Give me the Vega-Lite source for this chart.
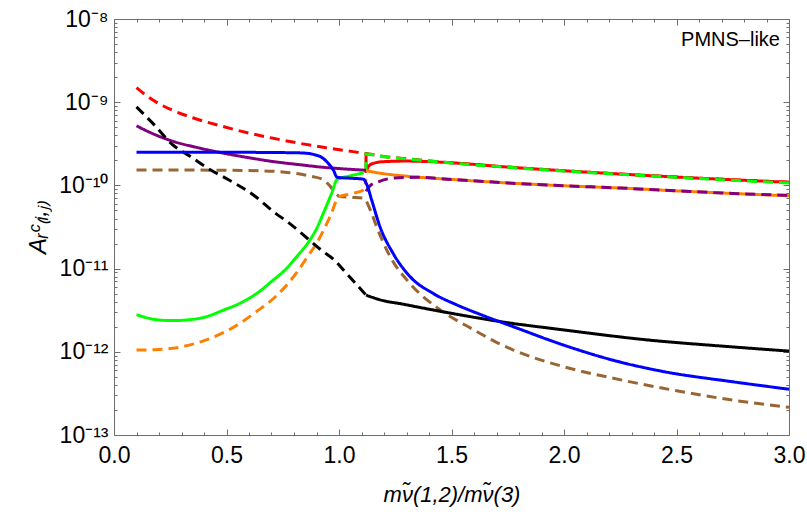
{
  "$schema": "https://vega.github.io/schema/vega-lite/v6.json",
  "description": "A_R^C(i,j) against the sneutrino mass ratio, PMNS-like case",
  "width": 675,
  "height": 416,
  "autosize": {"type": "none"},
  "padding": {"left": 114, "top": 19, "right": 18, "bottom": 81},
  "background": "white",
  "view": {"stroke": null},
  "config": {
    "font": "Liberation Sans",
    "axis": {
      "grid": false,
      "domainColor": "#6e6e6e",
      "tickColor": "#6e6e6e",
      "labelColor": "black",
      "labelFont": "Liberation Sans",
      "labelFontSize": 23,
      "labelOverlap": false,
      "labelFlush": false,
      "titleFont": "Liberation Sans",
      "titleFontSize": 22,
      "titleFontWeight": "normal",
      "titleColor": "black"
    }
  },
  "datasets": {
    "curves": [
      {"curve": "c01", "i": 1, "x": 0.1, "y": 1.5e-9},
      {"curve": "c01", "i": 2, "x": 0.15, "y": 1.17e-9},
      {"curve": "c01", "i": 3, "x": 0.2, "y": 9.6e-10},
      {"curve": "c01", "i": 4, "x": 0.26, "y": 8.0e-10},
      {"curve": "c01", "i": 5, "x": 0.35, "y": 6.5e-10},
      {"curve": "c01", "i": 6, "x": 0.485, "y": 5.1e-10},
      {"curve": "c01", "i": 7, "x": 0.6, "y": 4.25e-10},
      {"curve": "c01", "i": 8, "x": 0.708, "y": 3.68e-10},
      {"curve": "c01", "i": 9, "x": 0.82, "y": 3.22e-10},
      {"curve": "c01", "i": 10, "x": 0.93, "y": 2.87e-10},
      {"curve": "c01", "i": 11, "x": 1.02, "y": 2.64e-10},
      {"curve": "c01", "i": 12, "x": 1.12, "y": 2.42e-10},
      {"curve": "c01", "i": 13, "x": 1.2, "y": 2.23e-10},
      {"curve": "c01", "i": 14, "x": 1.3, "y": 2.09e-10},
      {"curve": "c01", "i": 15, "x": 1.5, "y": 1.87e-10},
      {"curve": "c01", "i": 16, "x": 1.75, "y": 1.66e-10},
      {"curve": "c01", "i": 17, "x": 2.0, "y": 1.5e-10},
      {"curve": "c01", "i": 18, "x": 2.25, "y": 1.37e-10},
      {"curve": "c01", "i": 19, "x": 2.5, "y": 1.26e-10},
      {"curve": "c01", "i": 20, "x": 2.75, "y": 1.17e-10},
      {"curve": "c01", "i": 21, "x": 3.0, "y": 1.09e-10},

      {"curve": "c02", "i": 22, "x": 1.12, "y": 2.4e-10},
      {"curve": "c02", "i": 23, "x": 1.12, "y": 1.47e-10},
      {"curve": "c02", "i": 24, "x": 1.13, "y": 1.68e-10},
      {"curve": "c02", "i": 25, "x": 1.15, "y": 1.83e-10},
      {"curve": "c02", "i": 26, "x": 1.2, "y": 1.93e-10},
      {"curve": "c02", "i": 27, "x": 1.3, "y": 1.96e-10},
      {"curve": "c02", "i": 28, "x": 1.4, "y": 1.93e-10},
      {"curve": "c02", "i": 29, "x": 1.5, "y": 1.87e-10},
      {"curve": "c02", "i": 30, "x": 1.75, "y": 1.66e-10},
      {"curve": "c02", "i": 31, "x": 2.0, "y": 1.5e-10},
      {"curve": "c02", "i": 32, "x": 2.5, "y": 1.26e-10},
      {"curve": "c02", "i": 33, "x": 3.0, "y": 1.09e-10},

      {"curve": "c03", "i": 34, "x": 1.12, "y": 1.45e-10},
      {"curve": "c03", "i": 35, "x": 1.12, "y": 2.38e-10},
      {"curve": "c03", "i": 36, "x": 1.2, "y": 2.21e-10},
      {"curve": "c03", "i": 37, "x": 1.3, "y": 2.08e-10},
      {"curve": "c03", "i": 38, "x": 1.5, "y": 1.86e-10},
      {"curve": "c03", "i": 39, "x": 1.75, "y": 1.65e-10},
      {"curve": "c03", "i": 40, "x": 2.0, "y": 1.49e-10},
      {"curve": "c03", "i": 41, "x": 2.25, "y": 1.36e-10},
      {"curve": "c03", "i": 42, "x": 2.5, "y": 1.25e-10},
      {"curve": "c03", "i": 43, "x": 2.75, "y": 1.15e-10},
      {"curve": "c03", "i": 44, "x": 3.0, "y": 1.07e-10},

      {"curve": "c04", "i": 45, "x": 1.12, "y": 1.5e-10},
      {"curve": "c04", "i": 46, "x": 1.2, "y": 1.38e-10},
      {"curve": "c04", "i": 47, "x": 1.3, "y": 1.29e-10},
      {"curve": "c04", "i": 48, "x": 1.5, "y": 1.18e-10},
      {"curve": "c04", "i": 49, "x": 1.75, "y": 1.07e-10},
      {"curve": "c04", "i": 50, "x": 2.0, "y": 9.9e-11},
      {"curve": "c04", "i": 51, "x": 2.25, "y": 9.3e-11},
      {"curve": "c04", "i": 52, "x": 2.5, "y": 8.6e-11},
      {"curve": "c04", "i": 53, "x": 2.75, "y": 8.0e-11},
      {"curve": "c04", "i": 54, "x": 3.0, "y": 7.5e-11},

      {"curve": "c05", "i": 55, "x": 1.12, "y": 8.5e-11},
      {"curve": "c05", "i": 56, "x": 1.14, "y": 1.0e-10},
      {"curve": "c05", "i": 57, "x": 1.18, "y": 1.12e-10},
      {"curve": "c05", "i": 58, "x": 1.25, "y": 1.23e-10},
      {"curve": "c05", "i": 59, "x": 1.35, "y": 1.25e-10},
      {"curve": "c05", "i": 60, "x": 1.5, "y": 1.18e-10},
      {"curve": "c05", "i": 61, "x": 1.75, "y": 1.07e-10},
      {"curve": "c05", "i": 62, "x": 2.0, "y": 9.9e-11},
      {"curve": "c05", "i": 63, "x": 2.25, "y": 9.3e-11},
      {"curve": "c05", "i": 64, "x": 2.5, "y": 8.6e-11},
      {"curve": "c05", "i": 65, "x": 2.75, "y": 8.0e-11},
      {"curve": "c05", "i": 66, "x": 3.0, "y": 7.6e-11},

      {"curve": "c06", "i": 67, "x": 0.1, "y": 5.2e-10},
      {"curve": "c06", "i": 68, "x": 0.18, "y": 4.1e-10},
      {"curve": "c06", "i": 69, "x": 0.26, "y": 3.4e-10},
      {"curve": "c06", "i": 70, "x": 0.37, "y": 2.85e-10},
      {"curve": "c06", "i": 71, "x": 0.49, "y": 2.43e-10},
      {"curve": "c06", "i": 72, "x": 0.6, "y": 2.15e-10},
      {"curve": "c06", "i": 73, "x": 0.71, "y": 1.93e-10},
      {"curve": "c06", "i": 74, "x": 0.82, "y": 1.78e-10},
      {"curve": "c06", "i": 75, "x": 0.93, "y": 1.65e-10},
      {"curve": "c06", "i": 76, "x": 1.02, "y": 1.58e-10},
      {"curve": "c06", "i": 77, "x": 1.12, "y": 1.52e-10},

      {"curve": "c07", "i": 78, "x": 0.1, "y": 1.53e-10},
      {"curve": "c07", "i": 79, "x": 0.3, "y": 1.53e-10},
      {"curve": "c07", "i": 80, "x": 0.5, "y": 1.52e-10},
      {"curve": "c07", "i": 81, "x": 0.65, "y": 1.5e-10},
      {"curve": "c07", "i": 82, "x": 0.75, "y": 1.45e-10},
      {"curve": "c07", "i": 83, "x": 0.82, "y": 1.38e-10},
      {"curve": "c07", "i": 84, "x": 0.88, "y": 1.28e-10},
      {"curve": "c07", "i": 85, "x": 0.93, "y": 1.17e-10},
      {"curve": "c07", "i": 86, "x": 0.96, "y": 9.8e-11},
      {"curve": "c07", "i": 87, "x": 0.99, "y": 7.8e-11},
      {"curve": "c07", "i": 88, "x": 1.0, "y": 7.4e-11},
      {"curve": "c07", "i": 89, "x": 1.05, "y": 7.2e-11},
      {"curve": "c07", "i": 90, "x": 1.11, "y": 7.0e-11},
      {"curve": "c07", "i": 91, "x": 1.14, "y": 5.0e-11},
      {"curve": "c07", "i": 92, "x": 1.167, "y": 3.2e-11},
      {"curve": "c07", "i": 93, "x": 1.227, "y": 1.4e-11},
      {"curve": "c07", "i": 94, "x": 1.316, "y": 6.6e-12},
      {"curve": "c07", "i": 95, "x": 1.449, "y": 3.2e-12},
      {"curve": "c07", "i": 96, "x": 1.597, "y": 1.85e-12},
      {"curve": "c07", "i": 97, "x": 1.7, "y": 1.3e-12},
      {"curve": "c07", "i": 98, "x": 1.775, "y": 1.05e-12},
      {"curve": "c07", "i": 99, "x": 2.0, "y": 6.6e-13},
      {"curve": "c07", "i": 100, "x": 2.22, "y": 4.8e-13},
      {"curve": "c07", "i": 101, "x": 2.44, "y": 3.65e-13},
      {"curve": "c07", "i": 102, "x": 2.74, "y": 2.65e-13},
      {"curve": "c07", "i": 103, "x": 3.0, "y": 2.15e-13},

      {"curve": "c08", "i": 104, "x": 0.1, "y": 1.05e-12},
      {"curve": "c08", "i": 105, "x": 0.18, "y": 1.06e-12},
      {"curve": "c08", "i": 106, "x": 0.26, "y": 1.1e-12},
      {"curve": "c08", "i": 107, "x": 0.41, "y": 1.39e-12},
      {"curve": "c08", "i": 108, "x": 0.56, "y": 2.2e-12},
      {"curve": "c08", "i": 109, "x": 0.63, "y": 3.0e-12},
      {"curve": "c08", "i": 110, "x": 0.71, "y": 4.4e-12},
      {"curve": "c08", "i": 111, "x": 0.81, "y": 8.8e-12},
      {"curve": "c08", "i": 112, "x": 0.86, "y": 1.39e-11},
      {"curve": "c08", "i": 113, "x": 0.9, "y": 2.0e-11},
      {"curve": "c08", "i": 114, "x": 0.96, "y": 4.2e-11},
      {"curve": "c08", "i": 115, "x": 1.0, "y": 7.3e-11},
      {"curve": "c08", "i": 116, "x": 1.05, "y": 7.9e-11},
      {"curve": "c08", "i": 117, "x": 1.11, "y": 8.8e-11},
      {"curve": "c08", "i": 118, "x": 1.12, "y": 1.2e-10},

      {"curve": "c09", "i": 119, "x": 0.1, "y": 2.8e-12},
      {"curve": "c09", "i": 120, "x": 0.18, "y": 2.45e-12},
      {"curve": "c09", "i": 121, "x": 0.256, "y": 2.37e-12},
      {"curve": "c09", "i": 122, "x": 0.33, "y": 2.42e-12},
      {"curve": "c09", "i": 123, "x": 0.41, "y": 2.64e-12},
      {"curve": "c09", "i": 124, "x": 0.49, "y": 3.2e-12},
      {"curve": "c09", "i": 125, "x": 0.56, "y": 3.83e-12},
      {"curve": "c09", "i": 126, "x": 0.64, "y": 5.16e-12},
      {"curve": "c09", "i": 127, "x": 0.708, "y": 7.3e-12},
      {"curve": "c09", "i": 128, "x": 0.76, "y": 9.6e-12},
      {"curve": "c09", "i": 129, "x": 0.812, "y": 1.39e-11},
      {"curve": "c09", "i": 130, "x": 0.871, "y": 2.21e-11},
      {"curve": "c09", "i": 131, "x": 0.9, "y": 3.0e-11},
      {"curve": "c09", "i": 132, "x": 0.93, "y": 4.6e-11},
      {"curve": "c09", "i": 133, "x": 0.967, "y": 8.0e-11},
      {"curve": "c09", "i": 134, "x": 0.992, "y": 1.18e-10},
      {"curve": "c09", "i": 135, "x": 1.05, "y": 1.3e-10},
      {"curve": "c09", "i": 136, "x": 1.11, "y": 1.42e-10},

      {"curve": "c10", "i": 137, "x": 0.1, "y": 8.8e-10},
      {"curve": "c10", "i": 138, "x": 0.18, "y": 5.3e-10},
      {"curve": "c10", "i": 139, "x": 0.26, "y": 3.1e-10},
      {"curve": "c10", "i": 140, "x": 0.34, "y": 2.22e-10},
      {"curve": "c10", "i": 141, "x": 0.43, "y": 1.53e-10},
      {"curve": "c10", "i": 142, "x": 0.49, "y": 1.25e-10},
      {"curve": "c10", "i": 143, "x": 0.63, "y": 7.3e-11},
      {"curve": "c10", "i": 144, "x": 0.71, "y": 4.8e-11},
      {"curve": "c10", "i": 145, "x": 0.78, "y": 3.5e-11},
      {"curve": "c10", "i": 146, "x": 0.86, "y": 2.3e-11},
      {"curve": "c10", "i": 147, "x": 0.93, "y": 1.6e-11},
      {"curve": "c10", "i": 148, "x": 0.975, "y": 1.3e-11},
      {"curve": "c10", "i": 149, "x": 1.02, "y": 9.6e-12},
      {"curve": "c10", "i": 150, "x": 1.07, "y": 6.8e-12},
      {"curve": "c10", "i": 151, "x": 1.12, "y": 4.8e-12},

      {"curve": "c11", "i": 152, "x": 1.12, "y": 4.8e-12},
      {"curve": "c11", "i": 153, "x": 1.2, "y": 4.1e-12},
      {"curve": "c11", "i": 154, "x": 1.27, "y": 3.8e-12},
      {"curve": "c11", "i": 155, "x": 1.4, "y": 3.25e-12},
      {"curve": "c11", "i": 156, "x": 1.5, "y": 2.9e-12},
      {"curve": "c11", "i": 157, "x": 1.63, "y": 2.52e-12},
      {"curve": "c11", "i": 158, "x": 1.72, "y": 2.3e-12},
      {"curve": "c11", "i": 159, "x": 2.0, "y": 1.83e-12},
      {"curve": "c11", "i": 160, "x": 2.37, "y": 1.39e-12},
      {"curve": "c11", "i": 161, "x": 2.74, "y": 1.15e-12},
      {"curve": "c11", "i": 162, "x": 3.0, "y": 1.02e-12},

      {"curve": "c12", "i": 163, "x": 0.1, "y": 2.5e-10},
      {"curve": "c12", "i": 164, "x": 0.5, "y": 2.5e-10},
      {"curve": "c12", "i": 165, "x": 0.8, "y": 2.47e-10},
      {"curve": "c12", "i": 166, "x": 0.86, "y": 2.43e-10},
      {"curve": "c12", "i": 167, "x": 0.9, "y": 2.3e-10},
      {"curve": "c12", "i": 168, "x": 0.92, "y": 2.2e-10},
      {"curve": "c12", "i": 169, "x": 0.95, "y": 1.87e-10},
      {"curve": "c12", "i": 170, "x": 0.975, "y": 1.53e-10},
      {"curve": "c12", "i": 171, "x": 0.992, "y": 1.25e-10},
      {"curve": "c12", "i": 172, "x": 1.05, "y": 1.22e-10},
      {"curve": "c12", "i": 173, "x": 1.108, "y": 1.19e-10},
      {"curve": "c12", "i": 174, "x": 1.125, "y": 1.0e-10},
      {"curve": "c12", "i": 175, "x": 1.145, "y": 6.7e-11},
      {"curve": "c12", "i": 176, "x": 1.182, "y": 3.2e-11},
      {"curve": "c12", "i": 177, "x": 1.24, "y": 1.53e-11},
      {"curve": "c12", "i": 178, "x": 1.316, "y": 8.0e-12},
      {"curve": "c12", "i": 179, "x": 1.42, "y": 5.0e-12},
      {"curve": "c12", "i": 180, "x": 1.52, "y": 3.7e-12},
      {"curve": "c12", "i": 181, "x": 1.63, "y": 2.8e-12},
      {"curve": "c12", "i": 182, "x": 1.775, "y": 2.0e-12},
      {"curve": "c12", "i": 183, "x": 2.0, "y": 1.2e-12},
      {"curve": "c12", "i": 184, "x": 2.22, "y": 7.9e-13},
      {"curve": "c12", "i": 185, "x": 2.44, "y": 5.8e-13},
      {"curve": "c12", "i": 186, "x": 2.74, "y": 4.4e-13},
      {"curve": "c12", "i": 187, "x": 3.0, "y": 3.55e-13}
    ]
  },
  "layer": [
    {
      "data": {"name": "curves"},
      "mark": {"type": "line", "strokeWidth": 3, "clip": true, "interpolate": "monotone"},
      "encoding": {
        "x": {
          "field": "x",
          "type": "quantitative",
          "scale": {"domain": [0, 3], "nice": false, "zero": false},
          "axis": {
            "orient": "bottom",
            "values": [0, 0.1, 0.2, 0.3, 0.4, 0.5, 0.6, 0.7, 0.8, 0.9, 1.0, 1.1, 1.2, 1.3, 1.4, 1.5, 1.6, 1.7, 1.8, 1.9, 2.0, 2.1, 2.2, 2.3, 2.4, 2.5, 2.6, 2.7, 2.8, 2.9, 3.0],
            "labelExpr": "abs(datum.value * 2 - round(datum.value * 2)) < 0.01 ? format(datum.value, '.1f') : ''",
            "tickSize": {"condition": {"test": "abs(datum.value * 2 - round(datum.value * 2)) < 0.01", "value": -6}, "value": -3},
            "labelPadding": 15,
            "title": "mν̃(1,2)/mν̃(3)",
            "titleFontStyle": "italic",
            "titlePadding": 14
          }
        },
        "y": {
          "field": "y",
          "type": "quantitative",
          "scale": {"type": "log", "domain": [1e-13, 1e-8], "nice": false},
          "axis": {
            "orient": "left",
            "values": [1e-13, 2e-13, 3e-13, 4e-13, 5e-13, 6e-13, 7e-13, 8e-13, 9e-13, 1e-12, 2e-12, 3e-12, 4e-12, 5e-12, 6e-12, 7e-12, 8e-12, 9e-12, 1e-11, 2e-11, 3e-11, 4e-11, 5e-11, 6e-11, 7e-11, 8e-11, 9e-11, 1e-10, 2e-10, 3e-10, 4e-10, 5e-10, 6e-10, 7e-10, 8e-10, 9e-10, 1e-9, 2e-9, 3e-9, 4e-9, 5e-9, 6e-9, 7e-9, 8e-9, 9e-9, 1e-8],
            "labelExpr": "abs(log(datum.value) / LN10 - round(log(datum.value) / LN10)) < 0.001 ? ['10⁻¹³', '10⁻¹²', '10⁻¹¹', '10⁻¹⁰', '10⁻⁹', '10⁻⁸'][round(log(datum.value) / LN10) + 13] : ''",
            "tickSize": {"condition": {"test": "abs(log(datum.value) / LN10 - round(log(datum.value) / LN10)) < 0.001", "value": -6}, "value": -3},
            "labelPadding": 12,
            "title": "Aᵣᶜ₍ᵢ,ⱼ₎",
            "titleFontStyle": "italic",
            "titleFontSize": 24,
            "titlePadding": 8
          }
        },
        "color": {
          "field": "curve",
          "type": "nominal",
          "scale": {
            "domain": ["c01", "c02", "c03", "c04", "c05", "c06", "c07", "c08", "c09", "c10", "c11", "c12"],
            "range": ["#ff0000", "#ff0000", "#00ff00", "#ff8000", "#800080", "#800080", "#996633", "#ff8000", "#00ff00", "#000000", "#000000", "#0000ff"]
          },
          "legend": null
        },
        "strokeDash": {
          "field": "curve",
          "type": "nominal",
          "scale": {
            "domain": ["c01", "c02", "c03", "c04", "c05", "c06", "c07", "c08", "c09", "c10", "c11", "c12"],
            "range": [[10, 6], [1, 0], [10, 6], [1, 0], [10, 6], [1, 0], [10, 6], [10, 6], [1, 0], [10, 6], [1, 0], [1, 0]]
          },
          "legend": null
        },
        "order": {"field": "i", "type": "quantitative"}
      }
    },
    {
      "data": {"values": [{"x": 2.96, "y": 5.6e-9, "label": "PMNS–like"}]},
      "mark": {"type": "text", "align": "right", "baseline": "middle", "fontSize": 20, "font": "Liberation Sans", "color": "black"},
      "encoding": {
        "x": {
          "field": "x",
          "type": "quantitative",
          "scale": {"domain": [0, 3], "nice": false, "zero": false},
          "axis": {
            "orient": "top",
            "values": [0, 0.1, 0.2, 0.3, 0.4, 0.5, 0.6, 0.7, 0.8, 0.9, 1.0, 1.1, 1.2, 1.3, 1.4, 1.5, 1.6, 1.7, 1.8, 1.9, 2.0, 2.1, 2.2, 2.3, 2.4, 2.5, 2.6, 2.7, 2.8, 2.9, 3.0],
            "labels": false,
            "tickSize": {"condition": {"test": "abs(datum.value * 2 - round(datum.value * 2)) < 0.01", "value": -6}, "value": -3},
            "title": null
          }
        },
        "y": {
          "field": "y",
          "type": "quantitative",
          "scale": {"type": "log", "domain": [1e-13, 1e-8], "nice": false},
          "axis": {
            "orient": "right",
            "values": [1e-13, 2e-13, 3e-13, 4e-13, 5e-13, 6e-13, 7e-13, 8e-13, 9e-13, 1e-12, 2e-12, 3e-12, 4e-12, 5e-12, 6e-12, 7e-12, 8e-12, 9e-12, 1e-11, 2e-11, 3e-11, 4e-11, 5e-11, 6e-11, 7e-11, 8e-11, 9e-11, 1e-10, 2e-10, 3e-10, 4e-10, 5e-10, 6e-10, 7e-10, 8e-10, 9e-10, 1e-9, 2e-9, 3e-9, 4e-9, 5e-9, 6e-9, 7e-9, 8e-9, 9e-9, 1e-8],
            "labels": false,
            "tickSize": {"condition": {"test": "abs(log(datum.value) / LN10 - round(log(datum.value) / LN10)) < 0.001", "value": -6}, "value": -3},
            "title": null
          }
        },
        "text": {"field": "label"}
      }
    }
  ],
  "resolve": {"axis": {"x": "independent", "y": "independent"}}
}
